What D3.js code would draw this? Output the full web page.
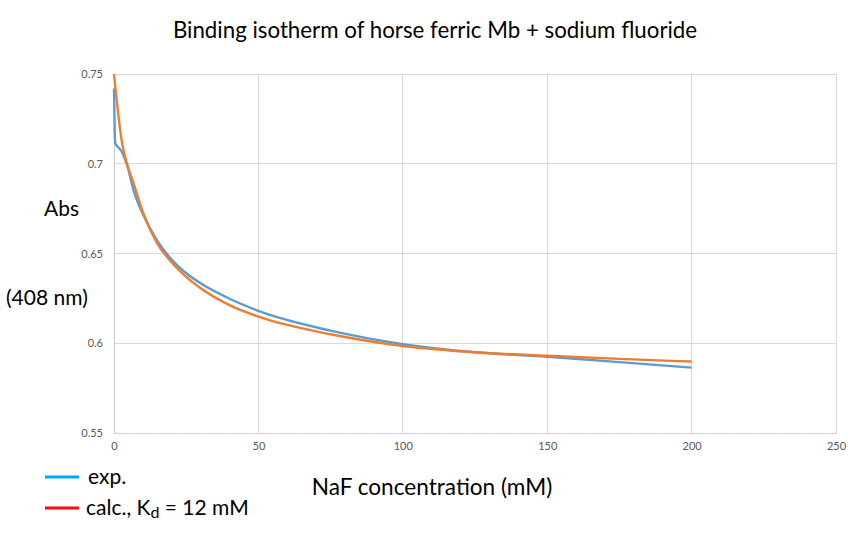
<!DOCTYPE html>
<html><head><meta charset="utf-8">
<script src="https://cdn.jsdelivr.net/npm/d3@7"></script>
<style>body{margin:0;background:#fff}</style>
</head><body>
<svg id="c" width="860" height="540"></svg>
<script>
// Data
const expConc  = [0, 0.4, 2.6, 4.4, 7, 10, 15, 20, 25, 30, 40, 50, 75, 100, 125, 150, 175, 200];
const expAbs   = [0.742, 0.7116, 0.707, 0.700, 0.684, 0.672, 0.657, 0.6465, 0.639, 0.6334, 0.6248, 0.618, 0.607, 0.5995, 0.595, 0.5925, 0.5895, 0.5864];
const calcConc = [0, 2.8, 4.5, 7, 10, 15, 20, 25, 30, 40, 50, 75, 100, 125, 150, 175, 200];
const calcAbs  = [0.750, 0.7115, 0.700, 0.688, 0.673, 0.6555, 0.645, 0.637, 0.6306, 0.6212, 0.6148, 0.605, 0.5985, 0.595, 0.593, 0.5913, 0.5898];
const xTicks = [0, 50, 100, 150, 200, 250];
const yTicks = [0.55, 0.6, 0.65, 0.7, 0.75];
const yTickLabels = ["0.55", "0.6", "0.65", "0.7", "0.75"];

const svg = d3.select("#c");
const font = "Lato, 'Open Sans', sans-serif";
const x = d3.scaleLinear().domain([0, 250]).range([114, 836]);
const y = d3.scaleLinear().domain([0.55, 0.75]).range([433, 74]);

// gridlines
svg.append("g").selectAll("line").data(yTicks.slice(1)).join("line")
  .attr("x1", x(0)).attr("x2", x(250)).attr("y1", d => y(d)).attr("y2", d => y(d))
  .attr("stroke", "#d9d9d9").attr("stroke-width", 1).attr("shape-rendering", "crispEdges");
svg.append("g").selectAll("line").data(xTicks.slice(1)).join("line")
  .attr("x1", d => x(d)).attr("x2", d => x(d)).attr("y1", y(0.55)).attr("y2", y(0.75))
  .attr("stroke", "#d9d9d9").attr("stroke-width", 1).attr("shape-rendering", "crispEdges");

// axes
const yAxis = d3.axisLeft(y).tickValues(yTicks).tickFormat((d, i) => yTickLabels[i]).tickSize(0).tickPadding(11);
const gy = svg.append("g").attr("transform", `translate(${x(0)},0)`).call(yAxis);
gy.select(".domain").attr("stroke", "#c8c8c8");
gy.selectAll("text").attr("font-family", font).attr("font-size", 11).attr("fill", "#595959");

const xAxis = d3.axisBottom(x).tickValues(xTicks).tickFormat(d3.format("d")).tickSize(0).tickPadding(9);
const gx = svg.append("g").attr("transform", `translate(0,${y(0.55)})`).call(xAxis);
gx.select(".domain").attr("stroke", "#c5b3cf").attr("stroke-dasharray", "2,1");
gx.selectAll("text").attr("font-family", font).attr("font-size", 11).attr("fill", "#595959");

// lines
const line = d3.line().curve(d3.curveMonotoneX);
const expPts = expConc.map((c, i) => [x(c), y(expAbs[i])]);
const calcPts = calcConc.map((c, i) => [x(c), y(calcAbs[i])]);
svg.append("path").attr("d", line(expPts)).attr("fill", "none").attr("stroke", "#5b9bd5").attr("stroke-width", 2.4);
svg.append("path").attr("d", line(calcPts)).attr("fill", "none").attr("stroke", "#ed7d31").attr("stroke-width", 2.4);

// titles
svg.append("text").attr("x", 435).attr("y", 38).attr("text-anchor", "middle")
  .attr("font-family", font).attr("font-size", 22.3).attr("fill", "#000")
  .text("Binding isotherm of horse ferric Mb + sodium fluoride");
svg.append("text").attr("x", 432).attr("y", 495).attr("text-anchor", "middle")
  .attr("font-family", font).attr("font-size", 22.6).attr("fill", "#000")
  .text("NaF concentration (mM)");
svg.append("text").attr("x", 44).attr("y", 216)
  .attr("font-family", font).attr("font-size", 21).attr("fill", "#000").text("Abs");
svg.append("text").attr("x", 6).attr("y", 305)
  .attr("font-family", font).attr("font-size", 21).attr("fill", "#000").text("(408 nm)");

// legend
svg.append("line").attr("x1", 45).attr("x2", 79).attr("y1", 477).attr("y2", 477)
  .attr("stroke", "#00a8f0").attr("stroke-width", 3);
svg.append("line").attr("x1", 45).attr("x2", 79).attr("y1", 508).attr("y2", 508)
  .attr("stroke", "#f01010").attr("stroke-width", 3);
svg.append("text").attr("x", 88).attr("y", 484)
  .attr("font-family", font).attr("font-size", 21).attr("fill", "#000").text("exp.");
const t2 = svg.append("text").attr("x", 86).attr("y", 515)
  .attr("font-family", font).attr("font-size", 21).attr("fill", "#000");
t2.append("tspan").text("calc., K");
t2.append("tspan").attr("font-size", 16).attr("dy", 3).text("d");
t2.append("tspan").attr("dy", -3).text(" = 12 mM");
</script>
</body></html>
